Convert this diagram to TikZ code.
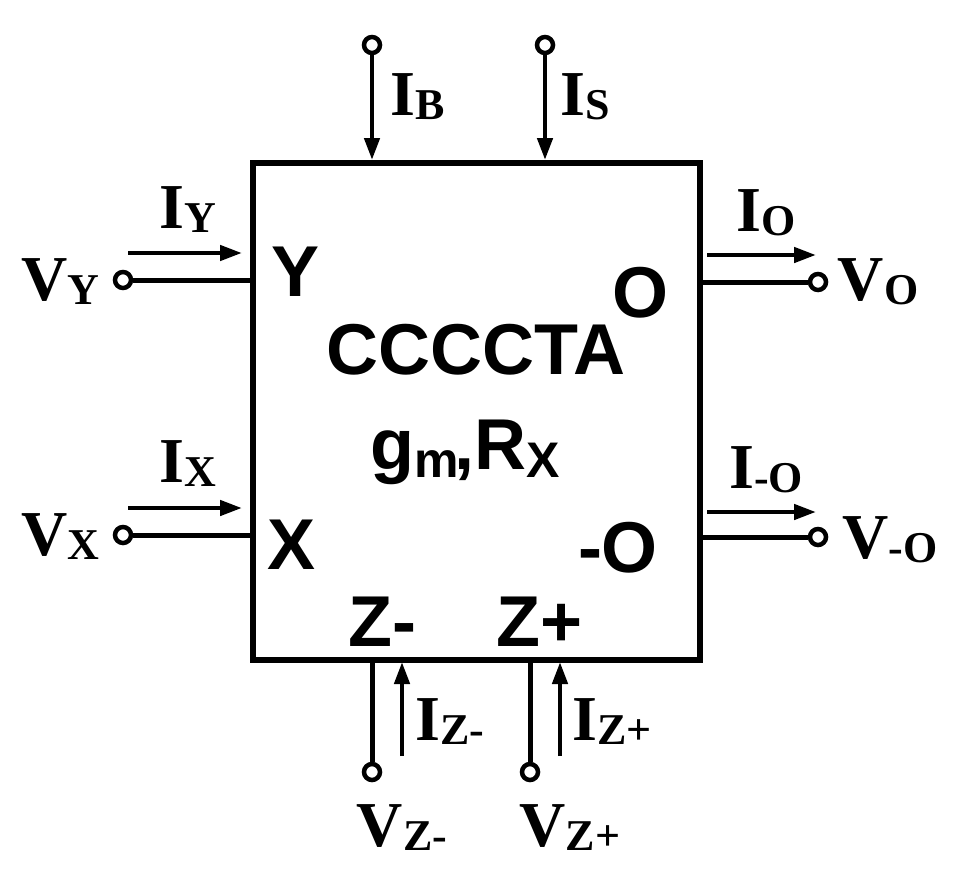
\documentclass[tikz,border=0pt]{standalone}
\usepackage{fontspec}
\setmainfont{Liberation Serif}
\setsansfont{Liberation Sans}
\usetikzlibrary{arrows.meta}
\newcommand{\lab}[2]{\fontsize{64}{64}\selectfont\bfseries #1\lower4pt\hbox{\fontsize{44}{44}\selectfont #2}}
\begin{document}
\begin{tikzpicture}[x=1pt,y=-1pt,
  wire/.style={line width=5pt},
  cur/.style={line width=4.5pt,-{Triangle[length=22pt,width=15pt]}},
  term/.style={circle,draw,line width=4.5pt,minimum size=16pt,inner sep=0pt,fill=white},
  pin/.style={font=\sffamily\bfseries\fontsize{72}{72}\selectfont,inner sep=0pt},
  ext/.style={inner sep=0pt}]
\useasboundingbox (0,0) rectangle (966,878);
\node[draw,line width=5.5pt,minimum width=447pt,minimum height=497pt,anchor=north west,inner sep=0pt] (box) at (250,160) {};
% top
\node[term] (tb) at (372,45) {};
\node[term] (ts) at (545,45) {};
\coordinate (bb) at (372,160); \coordinate (bs) at (545,160);
\draw[cur] (tb) -- (bb);
\draw[cur] (ts) -- (bs);
\node[ext] (ib) at (418,97) {\lab{I}{B}};
\node[ext] (is) at (585,97) {\lab{I}{S}};
% left
\node[term] (vy) at (123,280) {};
\node[term] (vx) at (123,535) {};
\coordinate (ly) at (250,280); \coordinate (lx) at (250,535);
\draw[wire] (vy) -- (ly);
\draw[wire] (vx) -- (lx);
\coordinate (ay1) at (128,253); \coordinate (ay2) at (242,253);
\coordinate (ax1) at (128,508); \coordinate (ax2) at (242,508);
\draw[cur] (ay1) -- (ay2);
\draw[cur] (ax1) -- (ax2);
\node[ext] (iy) at (188,210) {\lab{I}{Y}};
\node[ext] (ix) at (188,464) {\lab{I}{X}};
\node[ext] (lvy) at (60,282) {\lab{V}{Y}};
\node[ext] (lvx) at (60,537) {\lab{V}{X}};
% right
\node[term] (vo) at (818,282) {};
\node[term] (vmo) at (818,537) {};
\coordinate (ro) at (697,282); \coordinate (rmo) at (697,537);
\draw[wire] (ro) -- (vo);
\draw[wire] (rmo) -- (vmo);
\coordinate (ao1) at (707,255); \coordinate (ao2) at (816,255);
\coordinate (amo1) at (707,512); \coordinate (amo2) at (816,512);
\draw[cur] (ao1) -- (ao2);
\draw[cur] (amo1) -- (amo2);
\node[ext] (io) at (766,213) {\lab{I}{O}};
\node[ext] (imo) at (766,470) {\lab{I}{-O}};
\node[ext] (lvo) at (878,282) {\lab{V}{O}};
\node[ext] (lvmo) at (890,540) {\lab{V}{-O}};
% bottom
\node[term] (vzm) at (372,772) {};
\node[term] (vzp) at (530,772) {};
\coordinate (bzm) at (372,657); \coordinate (bzp) at (530,657);
\draw[wire] (bzm) -- (vzm);
\draw[wire] (bzp) -- (vzp);
\coordinate (azm1) at (402,756); \coordinate (azm2) at (402,662);
\coordinate (azp1) at (560,756); \coordinate (azp2) at (560,662);
\draw[cur] (azm1) -- (azm2);
\draw[cur] (azp1) -- (azp2);
\node[ext] (izm) at (450,722) {\lab{I}{Z-}};
\node[ext] (izp) at (612,722) {\lab{I}{Z+}};
\node[ext] (lvzm) at (402,828) {\lab{V}{Z-}};
\node[ext] (lvzp) at (570,828) {\lab{V}{Z+}};
% inside
\node[pin] (py) at (296,272) {Y};
\node[pin] (px) at (292,545) {X};
\node[pin] (po) at (640,293) {O};
\node[pin] (pmo) at (618,548) {-O};
\node[pin] (pzm) at (382,622) {Z-};
\node[pin] (pzp) at (540,622) {Z+};
\node[pin] (name) at (476,350) {CCCCTA};
\node[pin] (par) at (465,452) {g\lower8pt\hbox{\fontsize{50}{50}\selectfont m}\kern-4pt,R\lower8pt\hbox{\fontsize{50}{50}\selectfont X}};
\end{tikzpicture}
\end{document}
